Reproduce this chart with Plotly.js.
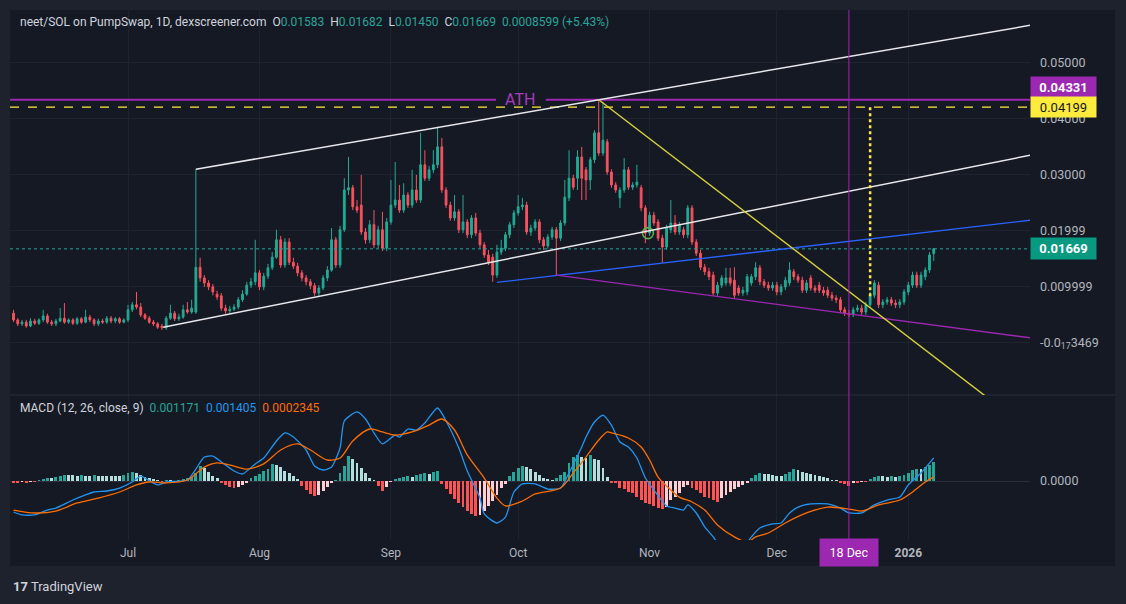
<!DOCTYPE html>
<html>
<head>
<meta charset="utf-8">
<script src="https://cdn.plot.ly/plotly-3.0.1.min.js"></script>
<style>html,body{margin:0;padding:0;background:#1e222d;}#chart{width:1126px;height:604px;}</style>
</head>
<body>
<div id="chart"></div>
<script>
// ---------- DATA (daily candles, first candle = 2025-06-04) ----------
const firstDay = '2025-06-04';
const open = [.0052,.0040,.0033,.0036,.0029,.0038,.0034,.0040,.0047,.0036,.0033,.0038,.0043,.0036,.0040,.0034,.0042,.0036,.0045,.0040,.0033,.0038,.0036,.0043,.0038,.0042,.0036,.0040,.0058,.0067,
.0063,.0049,.0043,.0036,.0033,.0029,.0026,.0043,.0052,.0042,.0045,.0058,.0054,.0054,.0134,.0115,.0106,.0099,.0086,.0083,.0061,.0056,.0059,.0063,.0076,.0086,.0102,.0108,.0124,.0099,
.0118,.0133,.0152,.0183,.0138,.0179,.0143,.0136,.0124,.0115,.0108,.0101,.0088,.0097,.0115,.0129,.0183,.0138,.0201,.0272,.0276,.0242,.0245,.0197,.0183,.0210,.0174,.0201,.0168,.0215,
.0245,.0254,.0236,.0263,.0245,.0272,.0254,.0317,.0293,.0308,.0317,.0349,.0272,.0245,.0222,.0233,.0201,.0215,.0192,.0222,.0195,.0174,.0156,.0152,.0120,.0161,.0168,.0192,.0210,.0231,
.0242,.0245,.0197,.0204,.0215,.0183,.0172,.0188,.0201,.0186,.0213,.0258,.0293,.0293,.0331,.0308,.0290,.0326,.0374,.0338,.0358,.0304,.0281,.0258,.0272,.0308,.0277,.0281,.0276,.0240,
.0195,.0227,.0215,.0186,.0170,.0201,.0213,.0197,.0201,.0192,.0240,.0179,.0159,.0134,.0126,.0120,.0088,.0102,.0106,.0115,.0111,.0097,.0088,.0090,.0106,.0117,.0133,.0108,.0102,.0097,
.0102,.0090,.0099,.0106,.0126,.0117,.0111,.0093,.0115,.0097,.0102,.0093,.0093,.0084,.0079,.0076,.0058,.0052,.0049,.0058,.0061,.0054,.0067,.0084,.0102,.0067,.0072,.0076,.0070,.0067,
.0072,.0090,.0102,.0120,.0102,.0117,.0129,.01583];
const high = [.0058,.0043,.0040,.0040,.0043,.0042,.0043,.0058,.0051,.0040,.0042,.0061,.0070,.0043,.0043,.0045,.0045,.0058,.0049,.0043,.0042,.0042,.0047,.0047,.0045,.0045,.0043,.0067,.0072,.0090,
.0070,.0052,.0047,.0040,.0036,.0033,.0047,.0067,.0056,.0051,.0067,.0072,.0076,.0309,.0151,.0120,.0111,.0104,.0092,.0088,.0067,.0065,.0068,.0081,.0093,.0108,.0115,.0183,.0129,.0124,
.0140,.0161,.0201,.0190,.0186,.0186,.0151,.0142,.0129,.0120,.0113,.0106,.0102,.0120,.0136,.0204,.0188,.0208,.0293,.0331,.0281,.0254,.0299,.0204,.0218,.0236,.0208,.0233,.0222,.0290,
.0322,.0281,.0284,.0268,.0308,.0299,.0374,.0343,.0315,.0343,.0385,.0365,.0277,.0251,.0263,.0238,.0263,.0220,.0227,.0231,.0201,.0179,.0165,.0158,.0174,.0183,.0197,.0215,.0236,.0263,
.0258,.0251,.0210,.0220,.0220,.0188,.0193,.0206,.0206,.0218,.0290,.0343,.0299,.0343,.0349,.0313,.0331,.0379,.04331,.0429,.0363,.0309,.0286,.0277,.0329,.0313,.0286,.0317,.0281,.0245,
.0233,.0233,.0220,.0192,.0210,.0254,.0227,.0215,.0206,.0245,.0245,.0184,.0165,.0140,.0133,.0126,.0108,.0120,.0133,.0133,.0134,.0102,.0099,.0122,.0122,.0143,.0138,.0113,.0108,.0108,
.0108,.0104,.0117,.0143,.0131,.0122,.0117,.0111,.0120,.0102,.0108,.0099,.0099,.0090,.0084,.0081,.0063,.0058,.0063,.0067,.0067,.0072,.0090,.0111,.0108,.0077,.0081,.0081,.0076,.0077,
.0095,.0108,.0126,.0126,.0126,.0134,.0161,.01682];
const low = [.0036,.0029,.0029,.0026,.0027,.0031,.0031,.0036,.0033,.0029,.0029,.0036,.0033,.0033,.0031,.0031,.0033,.0034,.0036,.0029,.0029,.0033,.0033,.0034,.0034,.0033,.0034,.0036,.0054,.0059,
.0045,.0040,.0033,.0029,.0024,.0022,.0022,.0040,.0038,.0038,.0042,.0051,.0051,.0051,.0108,.0099,.0093,.0084,.0076,.0056,.0051,.0052,.0056,.0059,.0072,.0083,.0097,.0102,.0093,.0093,
.0113,.0129,.0149,.0133,.0133,.0138,.0131,.0118,.0109,.0102,.0095,.0083,.0083,.0093,.0109,.0126,.0133,.0133,.0197,.0263,.0236,.0231,.0192,.0176,.0177,.0168,.0168,.0163,.0163,.0210,
.0240,.0231,.0231,.0240,.0240,.0249,.0249,.0288,.0288,.0302,.0311,.0267,.0240,.0217,.0217,.0195,.0195,.0186,.0186,.0190,.0168,.0151,.0138,.0108,.0115,.0156,.0163,.0186,.0204,.0226,
.0236,.0192,.0190,.0199,.0177,.0165,.0167,.0183,.0120,.0181,.0208,.0252,.0272,.0272,.0254,.0254,.0272,.0320,.0333,.0333,.0299,.0276,.0267,.0240,.0267,.0272,.0272,.0276,.0234,.0177,
.0190,.0208,.0181,.0142,.0165,.0195,.0192,.0192,.0186,.0186,.0174,.0154,.0129,.0120,.0111,.0083,.0083,.0097,.0101,.0101,.0079,.0083,.0083,.0084,.0101,.0111,.0102,.0097,.0092,.0092,
.0084,.0084,.0093,.0101,.0111,.0106,.0088,.0088,.0092,.0088,.0088,.0083,.0079,.0074,.0070,.0052,.0047,.0045,.0045,.0054,.0049,.0049,.0061,.0079,.0061,.0061,.0067,.0065,.0061,.0061,
.0067,.0084,.0097,.0097,.0097,.0111,.0124,.0145];
const close = [.0040,.0033,.0036,.0029,.0038,.0034,.0040,.0047,.0036,.0033,.0038,.0043,.0036,.0040,.0034,.0042,.0036,.0045,.0040,.0033,.0038,.0036,.0043,.0038,.0042,.0036,.0040,.0058,.0067,.0063,
.0049,.0043,.0036,.0033,.0027,.0026,.0043,.0052,.0042,.0045,.0058,.0054,.0061,.0134,.0115,.0106,.0099,.0090,.0081,.0061,.0056,.0059,.0063,.0076,.0086,.0102,.0108,.0124,.0099,.0118,
.0133,.0152,.0183,.0138,.0179,.0143,.0136,.0124,.0115,.0108,.0101,.0088,.0097,.0115,.0129,.0183,.0138,.0201,.0272,.0276,.0242,.0236,.0197,.0183,.0210,.0174,.0201,.0168,.0215,.0245,
.0254,.0236,.0263,.0245,.0272,.0254,.0317,.0293,.0308,.0317,.0349,.0272,.0245,.0222,.0233,.0201,.0215,.0192,.0222,.0195,.0174,.0156,.0143,.0120,.0161,.0168,.0192,.0210,.0231,.0242,
.0245,.0197,.0204,.0215,.0183,.0172,.0188,.0201,.0186,.0213,.0259,.0293,.0277,.0331,.0293,.0290,.0326,.0374,.0338,.0361,.0304,.0281,.0272,.0272,.0308,.0277,.0281,.0286,.0240,.0195,
.0227,.0213,.0186,.0170,.0204,.0213,.0197,.0210,.0192,.0240,.0179,.0159,.0134,.0126,.0117,.0088,.0102,.0115,.0115,.0106,.0084,.0088,.0093,.0117,.0117,.0133,.0108,.0102,.0097,.0102,
.0090,.0099,.0111,.0129,.0117,.0111,.0093,.0106,.0097,.0093,.0093,.0088,.0084,.0079,.0076,.0058,.0052,.0049,.0058,.0061,.0054,.0067,.0084,.0106,.0067,.0072,.0076,.0070,.0067,.0072,
.0090,.0102,.0120,.0102,.0120,.0129,.0156,.01669];

// MACD histogram, one value per candle
const macdHist = [-0.00012,-0.00012,-0.00006,-0.00012,-0.00006,-0.00006,0.00006,0.00012,0.00018,0.00018,
0.00024,0.0003,0.00037,0.00037,0.00037,0.0003,0.00037,0.0003,0.0003,0.00037,
0.0003,0.0003,0.0003,0.0003,0.0003,0.0003,0.00037,0.00049,0.00055,0.00049,
0.00037,0.00024,0.00018,0.00012,0.00006,-0.00006,0.00006,0.00006,-0.00006,0.00006,
0.00012,0.00018,0.00024,0.00049,0.00091,0.00079,0.00055,0.0003,0.00018,-0.00012,
-0.00024,-0.00037,-0.00043,-0.00037,-0.00024,-0.00012,0.00018,0.0003,0.00043,0.00061,
0.00073,0.00104,0.00098,0.00085,0.00061,0.00049,0.0003,0.00012,-0.0003,-0.00055,
-0.00079,-0.00091,-0.00085,-0.00061,-0.00037,-0.00012,0.00006,0.00049,0.00091,0.00152,
0.00134,0.0011,0.00079,0.00049,0.00018,0.00006,-0.0003,-0.00061,-0.00037,-0.00006,
0.00012,0.00018,0.00024,0.0003,0.00024,0.00037,0.00043,0.00049,0.00043,0.00055,
0.00061,-0.00018,-0.00049,-0.00079,-0.0011,-0.00134,-0.00159,-0.00183,-0.00201,-0.00213,
-0.00207,-0.00183,-0.00152,-0.00122,-0.00085,-0.00043,-0.00018,0.0003,0.00055,0.00079,
0.00091,0.00085,0.00073,0.00055,0.00037,0.00018,0.00012,0.00006,0.00018,0.00037,
0.00055,0.0011,0.00146,0.00159,0.00146,0.0014,0.00159,0.00134,0.00128,0.00079,
0.00024,-0.00012,-0.00012,-0.00043,-0.00049,-0.00067,-0.00073,-0.00098,-0.00116,-0.00134,
-0.0014,-0.00152,-0.00165,-0.00171,-0.00159,-0.00116,-0.00098,-0.00073,-0.00037,-0.00024,
-0.00043,-0.00055,-0.00073,-0.00098,-0.00104,-0.00116,-0.00128,-0.00104,-0.00085,-0.00067,
-0.00049,-0.00037,-0.00024,-0.00012,0.00018,0.00037,0.00049,0.00043,0.00043,0.00037,
0.0003,0.0003,0.00043,0.00055,0.00073,0.00067,0.00055,0.00049,0.00043,0.00037,
0.0003,0.00024,0.00018,0.00006,0.00006,-0.00012,-0.00018,-0.0003,-0.00012,-0.00012,
-0.00006,-0.00006,0.00012,0.00024,0.0003,0.0003,0.00024,0.0003,0.00024,0.0003,
0.00037,0.00049,0.00067,0.00073,0.00073,0.00085,0.00098,0.001171];

// MACD line and signal line, read at sampled candle indices
const macdIdx = [0,2,5,8,10,14,17,19,22,25,28,30,31,34,36,41,43,45,47,49,52,54,57,59,62,64,66,69,71,73,75,77,78,81,83,85,87,90,91,93,95,97,100,102,105,107,110,111,114,116,118,120,123,126,129,131,134,135,137,139,141,143,145,147,149,151,154,156,158,159,161,163,165,167,170,172,174,176,179,181,183,185,188,192,195,197,200,203,206,209,211,214,217];
const macdVal = [-0.00189,-0.00207,-0.00207,-0.00177,-0.00165,-0.00116,-0.00085,-0.00067,-0.00061,-0.00043,-0.00006,0.0003,0.00018,-0.00024,-0.00006,0.00006,0.00073,0.00146,0.00152,0.00116,0.00061,0.00043,0.00104,0.0014,0.00244,0.00293,0.00268,0.00189,0.00091,0.00067,0.00085,0.00201,0.00366,0.00421,0.00378,0.00293,0.00226,0.0028,0.00268,0.00317,0.00311,0.00354,0.00445,0.00366,0.00201,0.00061,-0.00104,-0.00201,-0.00256,-0.0022,-0.00067,-0.00018,-0.00018,-0.00049,-0.00043,0.00049,0.00207,0.00268,0.0036,0.00402,0.00341,0.00238,0.00207,0.0014,0.00018,-0.00055,-0.00152,-0.00165,-0.00177,-0.00146,-0.00195,-0.0028,-0.00341,-0.00409,-0.00439,-0.00409,-0.00341,-0.00287,-0.00262,-0.00256,-0.00195,-0.00159,-0.0014,-0.0014,-0.00165,-0.00195,-0.00195,-0.00146,-0.00116,-0.00098,-0.00024,0.00049,0.001405];
const signalIdx = [0,5,10,15,20,25,29,32,36,41,45,48,52,55,59,63,67,70,74,77,80,84,87,90,94,98,101,104,107,111,114,116,120,123,129,132,135,138,140,141,145,148,150,152,155,157,160,163,166,170,173,175,178,182,187,192,197,200,204,209,212,215,217];
const signalVal = [-0.00177,-0.00195,-0.00183,-0.00134,-0.00104,-0.00067,-0.00024,-0.00006,-0.00012,0.00006,0.00085,0.0011,0.00091,0.00073,0.00104,0.00189,0.00226,0.00189,0.00128,0.0014,0.00244,0.00317,0.00299,0.0028,0.00299,0.00341,0.00378,0.00311,0.00159,0.00018,-0.00104,-0.00152,-0.00122,-0.00079,-0.00043,0.00049,0.00146,0.0025,0.00299,0.00293,0.00262,0.00207,0.00128,0.00024,-0.00055,-0.00098,-0.00128,-0.00177,-0.00268,-0.00341,-0.00372,-0.00341,-0.00317,-0.00256,-0.00195,-0.00159,-0.00171,-0.00183,-0.00146,-0.00116,-0.00067,-0.00006,0.0002345];

// price-axis tick labels, time-axis labels
const priceTicks = [0.05, 0.04, 0.03, 0.02, 0.01, 0];
const priceTickText = ['0.05000', '0.04000', '0.03000', '0.01999', '0.009999', '-0.0<sub>17</sub>3469'];
const monthTicks = ['2025-07-01', '2025-08-01', '2025-09-01', '2025-10-01', '2025-11-01', '2025-12-01', '2026-01-01'];
const monthText = ['Jul', 'Aug', 'Sep', 'Oct', 'Nov', 'Dec', '<b>2026</b>'];

// drawings: [candle index, price]
const athPrice = 0.04331;
const prevHighPrice = 0.04199;
const lastPrice = 0.01669;
const upperChannel = [[43, 0.0309], [239.7, 0.0566]];
const lowerChannel = [[35.3, 0.0027], [239.7, 0.0334]];
const blueTrend = [[114, 0.0107], [239.7, 0.0218]];
const purpleTrend = [[128, 0.0120], [239.7, 0.0008]];
const yellowTrend = [[138, 0.04331], [239.7, -0.0157]];
const dottedMarker = [[202, 0.04199], [202, 0.0079]];
const markedDay = 197;        // 18 Dec
const circlePoint = [149.6, 0.0195];
const athTextAt = 119.5;
const athGap = [113.8, 125.5];
const viewRange = [-0.83, 239.7];

// ---------- helpers ----------
const BASE = Date.parse(firstDay + 'T00:00:00Z');
const DAY = 86400000;
function dt(j) { return new Date(BASE + j * DAY).toISOString().replace('T', ' ').slice(0, 19); }
const dates = close.map((_, i) => dt(i));

// page geometry (pixels) -> paper coords for decorations
const PL = 10, PR = 1030, PT = 10, PB = 540;
const px = v => (v - PL) / (PR - PL);
const py = v => (PB - v) / (PB - PT);
const split = py(395);

const FONT = 'Roboto, "Liberation Sans", Arial, sans-serif';
const GREEN = '#22ab94', RED = '#f7525f';
const GRID = '#1f2330';

// histogram colours
const histColors = macdHist.map((h, i) => {
  const prev = i > 0 ? macdHist[i - 1] : h;
  if (h >= 0) return prev < h ? '#26a69a' : '#b2dfdb';
  return prev < h ? '#ffcdd2' : '#ff5252';
});

const traces = [
  {
    type: 'candlestick', x: dates, open: open, high: high, low: low, close: close,
    xaxis: 'x', yaxis: 'y',
    increasing: { line: { color: GREEN, width: 1 }, fillcolor: GREEN },
    decreasing: { line: { color: RED, width: 1 }, fillcolor: RED },
    whiskerwidth: 0, hoverinfo: 'skip'
  },
  {
    type: 'scatter', mode: 'markers', x: [dt(circlePoint[0])], y: [circlePoint[1]],
    xaxis: 'x', yaxis: 'y',
    marker: { symbol: 'circle-open', size: 11, color: '#5fae4f', line: { width: 1.6, color: '#5fae4f' } },
    hoverinfo: 'skip'
  },
  {
    type: 'bar', x: dates, y: macdHist, xaxis: 'x', yaxis: 'y2',
    marker: { color: histColors, line: { width: 0 } }, width: DAY * 0.68, hoverinfo: 'skip'
  },
  {
    type: 'scatter', mode: 'lines', x: macdIdx.map(dt), y: macdVal, xaxis: 'x', yaxis: 'y2',
    line: { color: '#2196f3', width: 1.3, shape: 'spline', smoothing: 0.6 }, hoverinfo: 'skip'
  },
  {
    type: 'scatter', mode: 'lines', x: signalIdx.map(dt), y: signalVal, xaxis: 'x', yaxis: 'y2',
    line: { color: '#ff6d00', width: 1.3, shape: 'spline', smoothing: 0.8 }, hoverinfo: 'skip'
  }
];

function seg(a, b, color, width, dash) {
  return { type: 'line', xref: 'x', yref: 'y', x0: dt(a[0]), y0: a[1], x1: dt(b[0]), y1: b[1],
    line: { color: color, width: width, dash: dash || 'solid' } };
}

const shapes = [
  { type: 'rect', xref: 'paper', yref: 'paper', x0: 0, x1: px(1115), y0: py(566), y1: 1, fillcolor: '#151924', line: { width: 0 }, layer: 'below' },
  { type: 'line', xref: 'paper', yref: 'paper', x0: 0, x1: px(1115), y0: split, y1: split, line: { color: '#2a2e39', width: 1 } },
  seg([viewRange[0], athPrice], [athGap[0], athPrice], '#9c27b0', 2),
  seg([athGap[1], athPrice], [viewRange[1], athPrice], '#9c27b0', 2),
  seg([viewRange[0], prevHighPrice], [viewRange[1], prevHighPrice], '#ffeb3b', 1.3, 'dash'),
  seg([viewRange[0], lastPrice], [viewRange[1], lastPrice], '#26a69a', 1, 'dot'),
  seg(upperChannel[0], upperChannel[1], '#e8e8ec', 1.5),
  seg(lowerChannel[0], lowerChannel[1], '#e8e8ec', 1.5),
  seg(blueTrend[0], blueTrend[1], '#2962ff', 1.4),
  seg(purpleTrend[0], purpleTrend[1], '#9c27b0', 1.4),
  seg(yellowTrend[0], yellowTrend[1], '#d9d23a', 1.4),
  seg(dottedMarker[0], dottedMarker[1], '#ffeb3b', 2.5, 'dot'),
  { type: 'line', xref: 'x', yref: 'paper', x0: dt(markedDay), x1: dt(markedDay), y0: 0, y1: 1, line: { color: '#9c27b0', width: 1 } }
];

const lastHist = macdHist[macdHist.length - 1];
const lastMacd = macdVal[macdVal.length - 1];
const lastSig = signalVal[signalVal.length - 1];
const NB = '\u00a0';
const teal = s => '<span style="color:#26a69a">' + s + '</span>';

const annotations = [
  { xref: 'paper', yref: 'paper', x: px(18), y: py(22), xanchor: 'left', yanchor: 'middle', showarrow: false,
    font: { family: FONT, size: 12, color: '#d1d4dc' },
    text: 'neet/SOL on PumpSwap, 1D, dexscreener.com' + NB + NB + 'O' + teal('0.01583') + NB + NB + 'H' + teal('0.01682') + NB + NB + 'L' + teal('0.01450') + NB + NB + 'C' + teal('0.01669') + NB + NB + teal('0.0008599 (+5.43%)') },
  { xref: 'paper', yref: 'paper', x: px(18), y: py(408), xanchor: 'left', yanchor: 'middle', showarrow: false,
    font: { family: FONT, size: 12, color: '#d1d4dc' },
    text: 'MACD (12, 26, close, 9)' + NB + NB + '<span style="color:#26a69a">' + lastHist + '</span>' + NB + NB +
      '<span style="color:#2196f3">' + lastMacd + '</span>' + NB + NB + '<span style="color:#ff6d00">' + lastSig + '</span>' },
  { xref: 'x', yref: 'y', x: dt(athTextAt), y: athPrice, showarrow: false, xanchor: 'center', yanchor: 'middle',
    text: 'ATH', font: { family: FONT, size: 16, color: '#a83bbf' } },
  { xref: 'paper', yref: 'y', x: 1, y: athPrice, yshift: 13, xanchor: 'left', yanchor: 'middle', showarrow: false,
    text: '<b>' + athPrice.toFixed(5) + '</b>', font: { family: FONT, size: 13, color: '#ffffff' },
    bgcolor: '#9c27b0', width: 59, height: 14, borderpad: 3, align: 'center' },
  { xref: 'paper', yref: 'y', x: 1, y: prevHighPrice, xanchor: 'left', yanchor: 'middle', showarrow: false,
    text: prevHighPrice.toFixed(5), font: { family: FONT, size: 13, color: '#131722' },
    bgcolor: '#ffeb3b', width: 59, height: 14, borderpad: 3, align: 'center' },
  { xref: 'paper', yref: 'y', x: 1, y: lastPrice, xanchor: 'left', yanchor: 'middle', showarrow: false,
    text: '<b>' + lastPrice.toFixed(5) + '</b>', font: { family: FONT, size: 13, color: '#ffffff' },
    bgcolor: '#089981', width: 59, height: 15, borderpad: 3, align: 'center' },
  { xref: 'x', yref: 'paper', x: dt(markedDay), y: py(552), xanchor: 'center', yanchor: 'middle', showarrow: false,
    text: '18 Dec', font: { family: FONT, size: 12.5, color: '#ffffff' },
    bgcolor: '#9c27b0', width: 52, height: 21, borderpad: 3, align: 'center' },
  { xref: 'paper', yref: 'paper', x: px(11), y: py(586), xanchor: 'left', yanchor: 'middle', showarrow: false,
    text: '<b>17</b> TradingView', font: { family: FONT, size: 13, color: '#d1d4dc' } }
];

const layout = {
  width: 1126, height: 604,
  margin: { l: PL, r: 1126 - PR, t: PT, b: 604 - PB },
  paper_bgcolor: '#1e222d', plot_bgcolor: 'rgba(0,0,0,0)',
  showlegend: false, hovermode: false, boxgap: 0.4, bargap: 0,
  font: { family: FONT, color: '#b2b5be' },
  xaxis: {
    type: 'date', range: [dt(viewRange[0]), dt(viewRange[1])], anchor: 'y2',
    tickvals: monthTicks, ticktext: monthText, ticks: '', ticklabelstandoff: 4,
    tickfont: { family: FONT, size: 12, color: '#b2b5be' },
    showgrid: true, gridcolor: GRID, zeroline: false, showline: false,
    rangeslider: { visible: false }, fixedrange: true
  },
  yaxis: {
    domain: [split, 1], range: [(342.3 - 395) / 5600, (342.3 - 10) / 5600], side: 'right', anchor: 'x',
    tickvals: priceTicks, ticktext: priceTickText, ticks: '', ticklabelstandoff: 9,
    tickfont: { family: FONT, size: 12.5, color: '#b2b5be' },
    showgrid: true, gridcolor: GRID, zeroline: false, showline: false, fixedrange: true
  },
  yaxis2: {
    domain: [0, split], range: [(481 - 540) / 16400, (481 - 395) / 16400], side: 'right', anchor: 'x',
    tickvals: [0], ticktext: ['0.0000'], ticks: '', ticklabelstandoff: 9,
    tickfont: { family: FONT, size: 12.5, color: '#b2b5be' },
    showgrid: true, gridcolor: '#2a2e39', zeroline: false, showline: false, fixedrange: true
  },
  shapes: shapes,
  annotations: annotations
};

Plotly.newPlot('chart', traces, layout, { staticPlot: true, displayModeBar: false });
</script>
</body>
</html>
